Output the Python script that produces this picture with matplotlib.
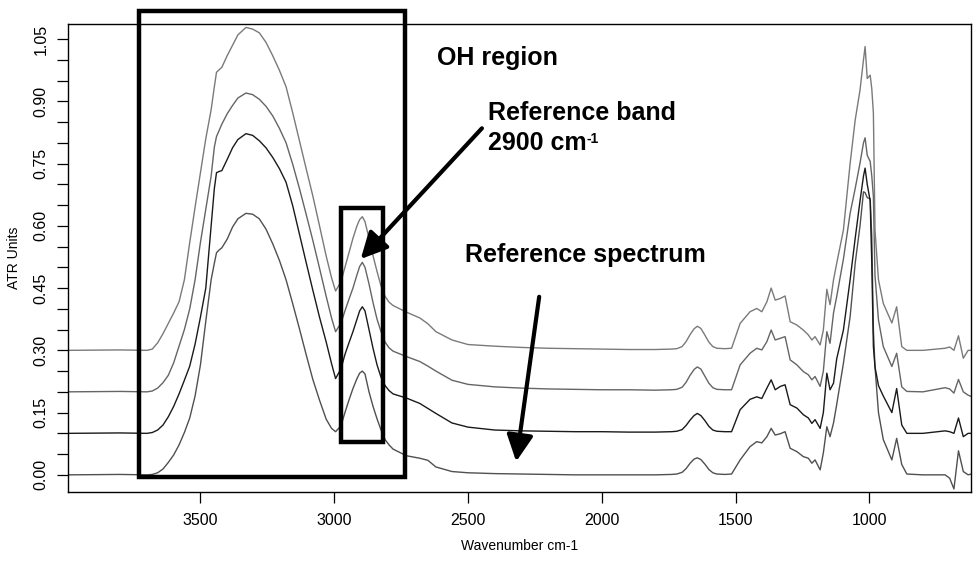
import matplotlib
matplotlib.use("Agg")
from matplotlib import pyplot as plt
from matplotlib.patches import Rectangle
from matplotlib.ticker import MultipleLocator, FixedLocator

plt.rcParams['font.family'] = ['Liberation Sans', 'DejaVu Sans']

# Wavenumbers (cm-1)
wavenumber = [3996, 3800, 3700, 3680, 3660, 3640, 3620, 3600, 3580, 3560, 3540, 3520,
              3500, 3480, 3460, 3448, 3440, 3430, 3420, 3400, 3380, 3360, 3330, 3305,
              3280, 3255, 3230, 3205, 3180, 3155, 3130, 3105, 3080, 3055, 3030, 3010,
              2995, 2975, 2960, 2945, 2930, 2915, 2905, 2895, 2885, 2870, 2855, 2840,
              2825, 2810, 2795, 2780, 2730, 2680, 2650, 2620, 2560, 2500, 2400, 2300,
              2200, 2100, 2000, 1900, 1800, 1740, 1720, 1700, 1685, 1670, 1655, 1643,
              1630, 1615, 1600, 1585, 1570, 1540, 1515, 1483, 1446, 1421, 1402, 1383,
              1367, 1352, 1333, 1315, 1296, 1271, 1247, 1228, 1215, 1203, 1184, 1172,
              1159, 1147, 1134, 1122, 1097, 1072, 1053, 1035, 1022, 1016, 1008, 997,
              991, 985, 979, 966, 948, 916, 898, 879, 860, 800, 717, 700,
              684, 667, 649, 631, 620]

# reference spectrum (bottom)
abs_ref = [0.000, 0.001, 0.000, 0.001, 0.005, 0.014, 0.030, 0.048, 0.072, 0.102, 0.137, 0.190,
           0.265, 0.370, 0.470, 0.510, 0.535, 0.542, 0.547, 0.568, 0.597, 0.617, 0.630, 0.628,
           0.617, 0.592, 0.557, 0.517, 0.470, 0.412, 0.352, 0.290, 0.230, 0.180, 0.134, 0.112,
           0.104, 0.118, 0.150, 0.180, 0.208, 0.232, 0.245, 0.250, 0.243, 0.200, 0.165, 0.135,
           0.108, 0.085, 0.072, 0.062, 0.046, 0.040, 0.035, 0.019, 0.008, 0.005, 0.003, 0.002,
           0.001, 0.000, 0.000, 0.000, 0.000, 0.001, 0.002, 0.006, 0.015, 0.028, 0.038, 0.041,
           0.037, 0.026, 0.013, 0.005, 0.002, 0.001, 0.002, 0.036, 0.068, 0.080, 0.077, 0.092,
           0.112, 0.096, 0.099, 0.104, 0.064, 0.056, 0.044, 0.040, 0.028, 0.036, 0.012, 0.053,
           0.116, 0.092, 0.125, 0.170, 0.269, 0.381, 0.510, 0.600, 0.682, 0.680, 0.668, 0.665,
           0.574, 0.349, 0.260, 0.150, 0.085, 0.036, 0.088, 0.025, 0.002, 0.000, 0.000, -0.008,
           -0.034, 0.058, 0.008, 0.000, 0.002]

# sample spectra, offset upwards
abs_s1 = [0.100, 0.101, 0.100, 0.102, 0.108, 0.120, 0.140, 0.165, 0.195, 0.228, 0.262, 0.315,
          0.380, 0.450, 0.600, 0.690, 0.728, 0.731, 0.733, 0.760, 0.788, 0.808, 0.822, 0.818,
          0.805, 0.788, 0.765, 0.738, 0.705, 0.648, 0.580, 0.512, 0.445, 0.380, 0.320, 0.268,
          0.232, 0.255, 0.290, 0.318, 0.345, 0.375, 0.395, 0.405, 0.395, 0.350, 0.305, 0.265,
          0.235, 0.215, 0.203, 0.195, 0.185, 0.172, 0.160, 0.148, 0.125, 0.115, 0.108, 0.106,
          0.105, 0.104, 0.104, 0.103, 0.103, 0.104, 0.105, 0.109, 0.119, 0.132, 0.143, 0.148,
          0.143, 0.131, 0.117, 0.108, 0.105, 0.104, 0.104, 0.157, 0.182, 0.188, 0.184, 0.209,
          0.229, 0.205, 0.213, 0.217, 0.169, 0.161, 0.145, 0.137, 0.124, 0.133, 0.112, 0.150,
          0.245, 0.205, 0.221, 0.280, 0.349, 0.470, 0.570, 0.660, 0.720, 0.739, 0.700, 0.660,
          0.510, 0.309, 0.260, 0.215, 0.190, 0.150, 0.208, 0.120, 0.100, 0.100, 0.106, 0.104,
          0.100, 0.137, 0.092, 0.100, 0.100]

abs_s2 = [0.200, 0.201, 0.200, 0.202, 0.209, 0.222, 0.240, 0.270, 0.310, 0.350, 0.400, 0.470,
          0.560, 0.640, 0.720, 0.790, 0.815, 0.830, 0.845, 0.870, 0.890, 0.908, 0.920, 0.916,
          0.905, 0.888, 0.865, 0.835, 0.800, 0.748, 0.690, 0.628, 0.565, 0.498, 0.430, 0.378,
          0.345, 0.365, 0.395, 0.423, 0.450, 0.482, 0.502, 0.512, 0.500, 0.460, 0.415, 0.375,
          0.345, 0.320, 0.306, 0.298, 0.285, 0.273, 0.262, 0.250, 0.228, 0.218, 0.212, 0.209,
          0.207, 0.206, 0.205, 0.205, 0.204, 0.205, 0.206, 0.211, 0.223, 0.240, 0.254, 0.260,
          0.255, 0.238, 0.221, 0.210, 0.206, 0.205, 0.205, 0.265, 0.293, 0.305, 0.301, 0.321,
          0.349, 0.325, 0.329, 0.333, 0.277, 0.265, 0.249, 0.241, 0.229, 0.237, 0.213, 0.250,
          0.345, 0.317, 0.390, 0.430, 0.520, 0.630, 0.690, 0.751, 0.800, 0.812, 0.770, 0.755,
          0.720, 0.670, 0.480, 0.373, 0.309, 0.261, 0.293, 0.212, 0.201, 0.200, 0.210, 0.207,
          0.197, 0.230, 0.200, 0.192, 0.189]

abs_s3 = [0.300, 0.301, 0.300, 0.303, 0.318, 0.340, 0.365, 0.390, 0.417, 0.470, 0.560, 0.645,
          0.728, 0.810, 0.880, 0.935, 0.970, 0.976, 0.982, 1.010, 1.035, 1.060, 1.078, 1.074,
          1.065, 1.042, 1.010, 0.975, 0.935, 0.872, 0.805, 0.738, 0.672, 0.600, 0.527, 0.475,
          0.443, 0.465, 0.500, 0.535, 0.570, 0.600, 0.615, 0.622, 0.610, 0.570, 0.528, 0.490,
          0.455, 0.430, 0.416, 0.408, 0.392, 0.378, 0.364, 0.345, 0.325, 0.314, 0.310, 0.307,
          0.305, 0.304, 0.303, 0.302, 0.302, 0.303, 0.304, 0.309, 0.321, 0.338, 0.352, 0.358,
          0.353, 0.337, 0.320, 0.309, 0.305, 0.304, 0.305, 0.365, 0.393, 0.401, 0.393, 0.417,
          0.450, 0.421, 0.425, 0.431, 0.369, 0.361, 0.349, 0.337, 0.325, 0.333, 0.313, 0.349,
          0.447, 0.410, 0.470, 0.510, 0.590, 0.750, 0.855, 0.927, 1.000, 1.032, 0.955, 0.963,
          0.930, 0.872, 0.590, 0.470, 0.413, 0.366, 0.405, 0.309, 0.300, 0.300, 0.305, 0.308,
          0.300, 0.335, 0.281, 0.300, 0.300]

spectra = [abs_ref, abs_s1, abs_s2, abs_s3]
colours = ['#505050', '#1a1a1a', '#656565', '#7a7a7a']

xticks = [3500, 3000, 2500, 2000, 1500, 1000]

fig = plt.figure(figsize=(9.73, 5.63), dpi=100)
ax = fig.add_axes([0.0696, 0.1256, 0.9284, 0.8312])

for vals, col in zip(spectra, colours):
    ax.plot(wavenumber, vals, color=col, lw=1.0)

ax.set_xlim(3996, 620)
ax.set_ylim(-0.042, 1.0855)

ax.xaxis.set_major_locator(FixedLocator(xticks))
ax.yaxis.set_major_locator(MultipleLocator(0.15))
ax.yaxis.set_minor_locator(MultipleLocator(0.05))
ax.yaxis.set_major_formatter(plt.FormatStrFormatter('%.2f'))
ax.tick_params(axis='both', which='both', length=8, width=0.9, direction='out', labelsize=11.5)
ax.tick_params(axis='x', pad=7)
ax.tick_params(axis='y', pad=6, labelrotation=90)
for lab in ax.get_yticklabels():
    lab.set_va('center')
for sp in ax.spines.values():
    sp.set_linewidth(1.0)

ax.set_xlabel('Wavenumber cm-1', fontsize=10, labelpad=8)
ax.set_ylabel('ATR Units', fontsize=10, labelpad=9)

# boxes around the OH region and the 2900 band
ax.add_patch(Rectangle((3730, -0.004), 2735 - 3730, 1.1175 + 0.004, fill=False,
                       lw=3.2, ec='black', clip_on=False, zorder=5))
ax.add_patch(Rectangle((2974, 0.079), 2816 - 2974, 0.642 - 0.079, fill=False,
                       lw=3.2, ec='black', clip_on=False, zorder=5))

arrow = dict(arrowstyle='-|>,head_length=0.8,head_width=0.4', lw=3, color='black',
             shrinkA=0, shrinkB=0, mutation_scale=20)
ax.annotate('', xy=(2901, 0.52), xytext=(2448, 0.835), arrowprops=arrow, zorder=6)
ax.annotate('', xy=(2320, 0.032), xytext=(2234, 0.429), arrowprops=arrow, zorder=6)

bold = dict(fontsize=18, fontweight='bold', va='baseline', ha='left')
ax.text(2617, 0.9875, 'OH region', **bold)
ax.text(2424, 0.855, 'Reference band', **bold)
t = ax.text(2424, 0.7827, '2900 cm', **bold)
ax.annotate('-1', xy=(1.0, 1.0), xycoords=t, xytext=(0, -1), textcoords='offset points',
            fontsize=10, fontweight='bold', ha='left', va='top')
ax.text(2511, 0.5137, 'Reference spectrum', **bold)

fig.savefig('out.png', dpi=100)
